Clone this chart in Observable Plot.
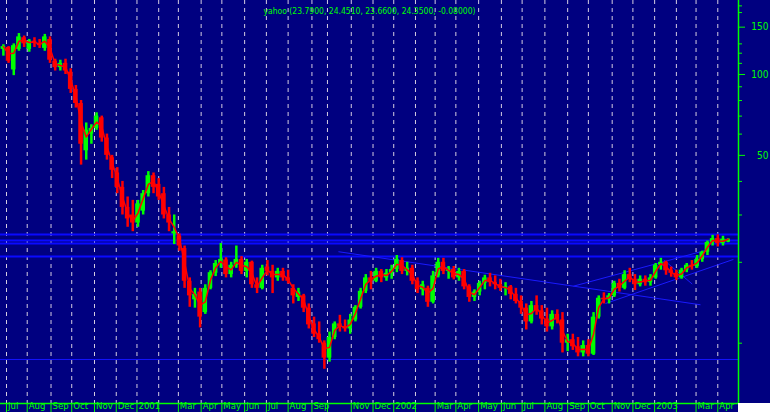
<!DOCTYPE html>
<html><head><meta charset="utf-8">
<script src="https://cdn.jsdelivr.net/npm/d3@7"></script>
<script src="https://cdn.jsdelivr.net/npm/@observablehq/plot@0.6"></script>
<style>
html,body{margin:0;padding:0;background:#fff;}
#wrap{position:relative;width:770px;height:412px;overflow:hidden;}
#corner{position:absolute;left:738px;top:403px;width:32px;height:9px;background:#fff;}
svg{display:block;}
</style></head><body>
<div id="wrap"><div id="chart"></div><div id="corner"></div></div>
<script>
// ---- data (5-trading-day bars, starting the last week of June 2000) ----
const barOpen  = [124,126,104,124,137,124,133,130,125,135,112,106,110,102,88,78,52,60,63,69,58,49,43,38,32,30,28,31,36,42,39,36,30,25.5,25,22.5,17,14.5,15.5,13,16,18.2,19.8,20.4,18,19.5,20.5,18.5,20,16.5,16,19.2,18.5,17.5,18.5,17.5,16,14.8,15,13.5,11.8,10.8,10,8.8,10.5,11.8,11.5,11.3,12.2,13.6,15.6,17.5,17,18.5,17.5,18.2,18.8,20.3,18.5,19,17,15.8,16,14.2,17.8,20,18.5,18.8,17.5,18.5,16.2,14.8,15.5,16.7,17.5,16.8,16.5,16,16.2,15.2,14.3,13.5,12,13.8,13.2,12.3,11.5,12.8,12.2,10,10.3,9.7,9.2,9.8,9.1,12.5,14.7,14.5,15,16.7,16,18,17.3,16.5,17.3,16.8,17.5,19.5,20,18.6,18.2,17.5,18.7,19.5,19.3,20.5,21.8,23.7,24.5,23.5,23.79];
const barHigh  = [129,127,130,142,139,135,137,135,141,138,114,113,114,105,91,80,66,65,72,70,60,50,45,40,35,34,34,37,43.5,43,41,38,32,30,25.5,23,17.5,16,16,16.5,18.6,20.3,23.5,20.8,20,23,21,20.5,20.2,17.5,19.5,20.3,19.5,19,19,18.7,16.5,16,15.2,14,12.5,12,10.2,11,12,12.7,12.2,12.8,13.8,16,18,18.5,19,18.8,18.8,19.5,21.2,20.8,20,19.5,17.5,17,16.3,18.5,20.7,20.7,19.3,19.3,19,18.8,16.5,15.8,17,17.9,18.2,17.8,17.3,16.8,16.4,16,15,14,14.3,15,13.8,13.5,13.2,13.3,13,10.8,10.8,10.5,10.2,10.3,13,15,15.4,15.3,17,17.3,18.6,19,18,17.8,17.8,18,19.8,20.7,20.2,19.2,18.7,19,19.8,20.3,21.2,22,24,25.2,25.3,25,24.451];
const barLow   = [117,110,99,122,126,121,126,125,122,110,103,103,100,85,75,46,48,55,62,56,48,41,36,30,27,26,27,30,35,36,34,29,26,23.3,22,16,13.6,13.5,11.4,12.8,15.8,17.7,19,17.5,17.5,19,18,17.5,16,15.3,15.8,17.8,15.3,17,17,16.6,14,14.3,13,11.3,10.5,10,8.0,8.5,10.3,11,11,10.8,12,13.4,15.3,15.8,16.8,16.8,17,17.3,18.3,18,17.8,16.5,15.3,15,13.6,14,17.5,18,17.3,17.2,17,15.8,14.2,14.3,15,15.8,16.2,15.8,15.6,15,14.5,14,12.8,11.2,11.8,12.7,11.7,11,11.2,11.8,9.2,9.3,9.4,8.9,8.9,8.9,9,12.3,14,14,14.8,15.5,15.8,16.8,15.7,16.2,16.3,16.3,17.3,18.7,17.9,17.6,17.1,17.3,18.3,18.7,19,20,21.2,23,22.8,23,23.66];
const barClose = [127,112,128,138,130,133,131,128,138,113,106,110,103,88,78,55,62,63,70,58,50,44,38,32,29,28,33,36,42,38,35,30,28,26,23,17,15,15.2,12.5,16,18.3,19.8,20.5,18,19.5,20.5,18.5,20,16.5,16,19,18.5,17.5,18.5,17.5,17,15,15.5,13.5,11.7,10.8,10.3,8.8,10.5,11.8,11.5,11.3,12.2,13.6,15.6,17.5,17,18.5,17.5,18.2,18.8,20.5,18.5,19,17,15.8,16.5,14.2,17.8,20,18.5,18.8,17.5,18.5,16.2,14.8,15.5,16.7,17.5,16.8,16.5,16,16.2,15.2,14.3,13.5,12,13.8,13.2,12.3,11.5,12.8,12.2,10,10.3,9.7,9.2,9.8,9.1,12.5,14.7,14.5,15,16.7,16,18,17.3,16.5,17.3,16.8,17.5,19.5,20,18.6,18.2,17.5,18.7,19.5,19.3,20.5,21.8,23.7,24.5,23.5,24.4,24.35];
const daysPerBar = 5;

// month ticks: labels and trading days per month (Jul 2000 .. Mar 2003)
const monthLabels = ["Jul","Aug","Sep","Oct","Nov","Dec","2001","","Mar","Apr","May","Jun","Jul","Aug","Sep","","Nov","Dec","2002","","Mar","Apr","May","Jun","Jul","Aug","Sep","Oct","Nov","Dec","2003","","Mar","Apr"];
const monthTradingDays = [20,23,20,22,21,20, 21,19,22,20,22,21,21,23,15,23,21,20, 21,19,20,22,22,20,22,22,20,23,20,21, 21,19,21];

// right axis ticks
const yMajorTicks = [50, 100, 150];
const yMinorTicks = [10, 20, 30, 40, 60, 70, 80, 90, 110, 120, 130, 170, 180];

// horizontal levels
const levelsThick = [25.4, 24.1, 23.5, 21.0];
const levelsThin = [8.7];

// trend lines (trading-day index, price)
const trendX1 = [320.6, 547.6, 578.5, 634.8];
const trendY1 = [21.9, 16.3, 14.05, 20.4];
const trendX2 = [670.3, 678, 702.1, 662.3];
const trendY2 = [13.9, 22.3, 20.5, 16.6];

// last quote in title
const titleName = "yahoo";
const titleValues = [23.79, 24.451, 23.66, 24.35];
const titleChange = -0.08;

const xDomain = [-5.8, 707];
const yDomain = [5.965, 188.5];

// ---- build tables ----
const bars = barOpen.map((o, i) => ({
  x1: daysPerBar * i - 5.5, x2: daysPerBar * i - 0.5, mid: daysPerBar * i - 3,
  open: o, high: barHigh[i], low: barLow[i], close: barClose[i]
}));
let acc = 0;
const months = monthLabels.map((label, i) => {
  const d = acc; acc += (monthTradingDays[i] || 0);
  return {day: d, label};
});
const trends = trendX1.map((x, i) => ({x1: x, y1: trendY1[i], x2: trendX2[i], y2: trendY2[i]}));
const title = `${titleName} (${titleValues.map(v => v.toFixed(4)).join(", ")}, ${titleChange.toFixed(5)})`;

const GREEN = "#00ff00", RED = "#ff0000", BLUE = "#0a0aff";
const FONT = "'Liberation Sans Narrow','DejaVu Sans Condensed','Roboto Condensed',Arial,sans-serif";

const chart = Plot.plot({
  width: 770, height: 412,
  marginLeft: 0, marginRight: 32, marginTop: 0, marginBottom: 9,
  style: {background: "#000080", fontFamily: FONT, overflow: "visible"},
  x: {type: "linear", domain: xDomain, axis: null},
  y: {type: "log", domain: yDomain, axis: null},
  marks: [
    Plot.ruleX(months, {x: "day", stroke: "#d4cce0", strokeDasharray: "4,4", strokeWidth: 1}),
    Plot.ruleY(levelsThin, {stroke: "#1414ff", strokeWidth: 1}),
    Plot.ruleY(levelsThick, {stroke: BLUE, strokeWidth: 2}),
    Plot.link(trends, {x1: "x1", y1: "y1", x2: "x2", y2: "y2", stroke: "#1a1aff", strokeWidth: 1}),
    Plot.ruleX(bars, {filter: d => d.close >= d.open, x: "mid", y1: "low", y2: "high", stroke: GREEN, strokeWidth: 2.5}),
    Plot.ruleX(bars, {filter: d => d.close < d.open, x: "mid", y1: "low", y2: "high", stroke: RED, strokeWidth: 2.5}),
    Plot.rect(bars, {filter: d => d.close >= d.open, x1: "x1", x2: "x2", y1: "open", y2: "close", fill: GREEN, insetLeft: 0.3, insetRight: 0.3}),
    Plot.rect(bars, {filter: d => d.close < d.open, x1: "x1", x2: "x2", y1: "open", y2: "close", fill: RED, insetLeft: 0.3, insetRight: 0.3}),
    Plot.lineY(bars, Plot.windowY({k: 2, anchor: "end"}, {x: "mid", y: "close", stroke: RED, strokeWidth: 1.5})),
    Plot.text([title], {frameAnchor: "top", dy: 7, fill: GREEN, fontSize: 8.5, text: d => d}),
    Plot.ruleX([xDomain[1]], {stroke: GREEN, strokeWidth: 1.5}),
    Plot.ruleY([yDomain[0]], {stroke: GREEN, strokeWidth: 1.5}),
    Plot.axisY({anchor: "right", ticks: yMajorTicks, tickSize: 6, tickPadding: 24, textAnchor: "end", stroke: GREEN, fill: GREEN, fontSize: 10, tickFormat: d => String(d)}),
    Plot.axisY({anchor: "right", ticks: yMinorTicks, tickSize: 3, stroke: GREEN, tickFormat: () => ""}),
    Plot.axisX({anchor: "bottom", ticks: months.map(d => d.day), tickSize: 9, stroke: GREEN, tickFormat: () => ""}),
    Plot.text(months, {x: "day", text: "label", frameAnchor: "bottom", dy: 5, dx: 1.5, textAnchor: "start", fill: GREEN, fontSize: 9.5})
  ]
});
document.getElementById("chart").appendChild(chart);
</script>
</body></html>
